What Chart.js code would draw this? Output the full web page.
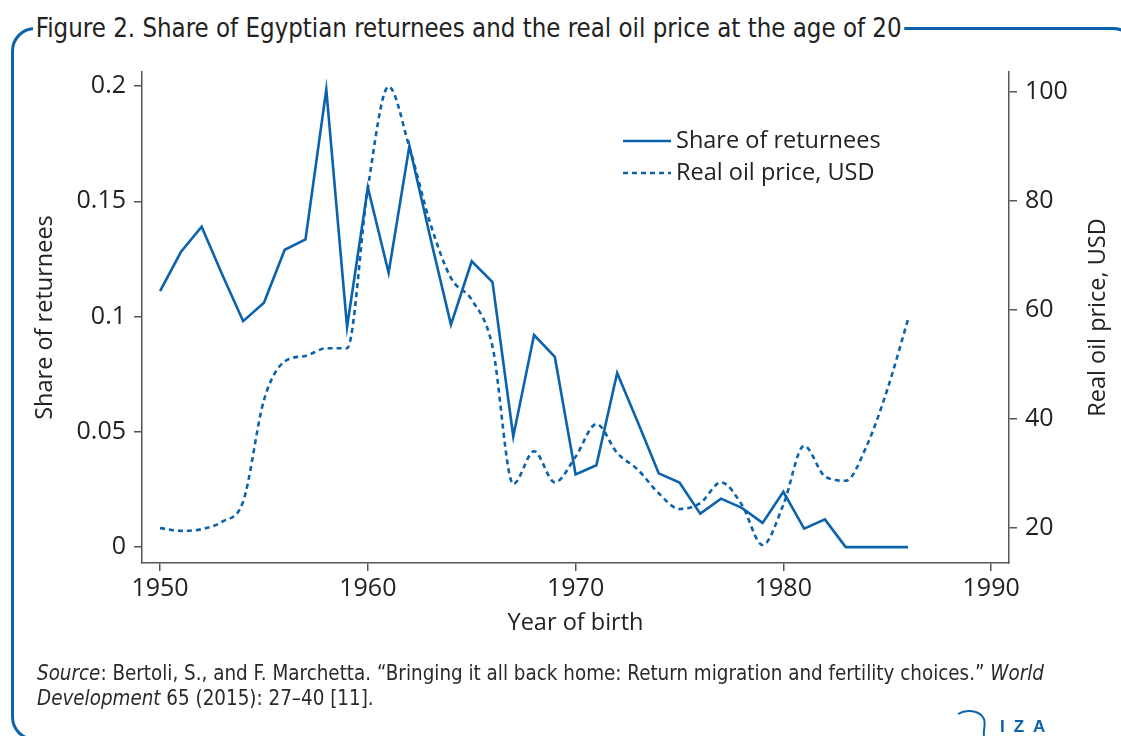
<!DOCTYPE html>
<html>
<head>
<meta charset="utf-8">
<script src="https://cdn.jsdelivr.net/npm/chart.js@4.4.1/dist/chart.umd.min.js"></script>
<style>
  html, body { margin: 0; padding: 0; background: #fff; overflow: hidden; }
  #wrap { position: relative; width: 1121px; height: 736px; overflow: hidden; }
  #frame {
    position: absolute; left: 11px; top: 27px; width: 1126px; height: 714px;
    box-sizing: border-box; border: 3px solid #0b62ad; border-radius: 24px;
  }
  #title {
    position: absolute; left: 33px; top: 12px; padding: 0 3px; background: #fff;
    font-family: 'Liberation Sans Narrow', 'DejaVu Sans Condensed', sans-serif;
    font-size: 27px; line-height: 32px; color: #222; white-space: nowrap;
    transform: scaleX(0.947); transform-origin: left center;
  }
  #source {
    position: absolute; left: 37px; top: 661px;
    font-family: 'Liberation Sans Narrow', 'DejaVu Sans Condensed', sans-serif;
    font-size: 20.4px; line-height: 25px; color: #2a2a2a; white-space: nowrap;
  }
  #logo { position: absolute; left: 950px; top: 706px; }
  canvas { position: absolute; left: 0; top: 0; }
</style>
</head>
<body>
<div id="wrap">
  <div id="frame"></div>
  <div id="title">Figure 2. Share of Egyptian returnees and the real oil price at the age of 20</div>
  <canvas id="chart" width="1121" height="736"></canvas>
  <div id="source"><i>Source</i>: Bertoli, S., and F. Marchetta. “Bringing it all back home: Return migration and fertility choices.” <i>World</i><br><i>Development</i> 65 (2015): 27–40 [11].</div>
  <svg id="logo" width="110" height="30" viewBox="0 0 110 30">
    <path d="M8 8 C 16 3, 30 4, 34 13 C 36 19, 33 24, 34 30" fill="none" stroke="#0b62ad" stroke-width="2"/>
    <text x="50" y="26" fill="#0b62ad" font-family="Liberation Sans, Arial, sans-serif" font-weight="bold" font-size="17" letter-spacing="9">IZA</text>
  </svg>
</div>
<script>
const years = [1950, 1951, 1952, 1953, 1954, 1955, 1956, 1957, 1958, 1959,
               1960, 1961, 1962, 1963, 1964, 1965, 1966, 1967, 1968, 1969,
               1970, 1971, 1972, 1973, 1974, 1975, 1976, 1977, 1978, 1979,
               1980, 1981, 1982, 1983, 1984, 1985, 1986];

// share of returnees (left axis)
const shareReturnees = [0.111, 0.128, 0.139, 0.118, 0.098, 0.106, 0.129, 0.1335, 0.1985, 0.0955,
                        0.156, 0.119, 0.174, 0.1345, 0.0965, 0.124, 0.115, 0.048, 0.092, 0.0825,
                        0.0315, 0.0355, 0.0755, 0.054, 0.032, 0.028, 0.0145, 0.021, 0.017, 0.0105,
                        0.024, 0.008, 0.012, 0, 0, 0, 0];

// real oil price, USD (right axis)
const oilPrice = [20.0, 19.5, 19.8, 21.2, 24.9, 43.5, 50.6, 51.6, 53.0, 53.0,
                  82.4, 101.0, 89.9, 76.0, 65.9, 61.9, 53.3, 28.1, 34.1, 28.4,
                  33.1, 39.1, 33.8, 30.7, 26.4, 23.5, 24.6, 28.4, 24.3, 16.9,
                  24.3, 35.1, 29.5, 28.7, 35.0, 45.4, 58.3];

const xTicks = [1950, 1960, 1970, 1980, 1990];
const shareTicks = [0, 0.05, 0.1, 0.15, 0.2];
const oilTicks = [20, 40, 60, 80, 100];

const blue = '#0b62ad';
const axisGrey = '#555';
const textCol = '#222';
const fontFamily = "'Open Sans', 'DejaVu Sans', sans-serif";
const labelSize = 23.5;

// legend inside the plot + right axis title reading bottom-to-top
const extrasPlugin = {
    id: 'extras',
    afterDraw(chart) {
        const ctx = chart.ctx;
        chart.data.datasets.forEach((ds, i) => {
            const y = 141 + i * 32;
            ctx.save();
            ctx.strokeStyle = ds.borderColor;
            ctx.lineWidth = ds.borderWidth;
            ctx.setLineDash(ds.borderDash || []);
            ctx.beginPath();
            ctx.moveTo(623, y);
            ctx.lineTo(671, y);
            ctx.stroke();
            ctx.setLineDash([]);
            ctx.fillStyle = textCol;
            ctx.font = labelSize + 'px ' + fontFamily;
            ctx.textBaseline = 'middle';
            ctx.fillText(ds.label, 676, y);
            ctx.restore();
        });

        const area = chart.chartArea;
        ctx.save();
        ctx.translate(1098, (area.top + area.bottom) / 2);
        ctx.rotate(-Math.PI / 2);
        ctx.fillStyle = textCol;
        ctx.font = labelSize + 'px ' + fontFamily;
        ctx.textAlign = 'center';
        ctx.textBaseline = 'middle';
        ctx.fillText('Real oil price, USD', 0, 0);
        ctx.restore();
    }
};

function axisStyle(ticks, fmt, pad) {
    return {
        afterBuildTicks: s => { s.ticks = ticks.map(v => ({ value: v })); },
        ticks: { color: textCol, font: { family: fontFamily, size: 25 }, padding: pad, callback: fmt },
        grid: { display: true, drawOnChartArea: false, drawTicks: true, tickLength: 8, color: axisGrey, lineWidth: 1.5 },
        border: { display: true, color: axisGrey, width: 1.5 }
    };
}

new Chart(document.getElementById('chart').getContext('2d'), {
    type: 'line',
    data: {
        datasets: [{
            label: 'Share of returnees',
            data: years.map((y, i) => ({ x: y, y: shareReturnees[i] })),
            yAxisID: 'y',
            borderColor: blue,
            borderWidth: 2.6,
            pointRadius: 0,
            tension: 0
        }, {
            label: 'Real oil price, USD',
            data: years.map((y, i) => ({ x: y, y: oilPrice[i] })),
            yAxisID: 'y1',
            borderColor: blue,
            borderWidth: 2.6,
            borderDash: [5, 4],
            pointRadius: 0,
            cubicInterpolationMode: 'monotone'
        }]
    },
    options: {
        responsive: false,
        animation: false,
        layout: { padding: { left: 30, right: 0, top: 72, bottom: 93 } },
        plugins: { legend: { display: false }, tooltip: { enabled: false } },
        scales: {
            x: {
                type: 'linear', min: 1949.13, max: 1990.86,
                afterFit: s => { s.height = 80; },
                title: { display: true, text: 'Year of birth', color: textCol, font: { family: fontFamily, size: labelSize }, padding: { top: 0, bottom: 6 } },
                ...axisStyle(xTicks, v => String(v), 3)
            },
            y: {
                position: 'left', min: -0.0069, max: 0.2061,
                afterFit: s => { s.width = 112; },
                title: { display: true, text: 'Share of returnees', color: textCol, font: { family: fontFamily, size: labelSize }, padding: { top: 1, bottom: 0 } },
                ...axisStyle(shareTicks, v => String(v), 8)
            },
            y1: {
                position: 'right', min: 13.6, max: 103.7,
                afterFit: s => { s.width = 112; },
                ...axisStyle(oilTicks, v => String(v), 8)
            }
        }
    },
    plugins: [extrasPlugin]
});
</script>
</body>
</html>
